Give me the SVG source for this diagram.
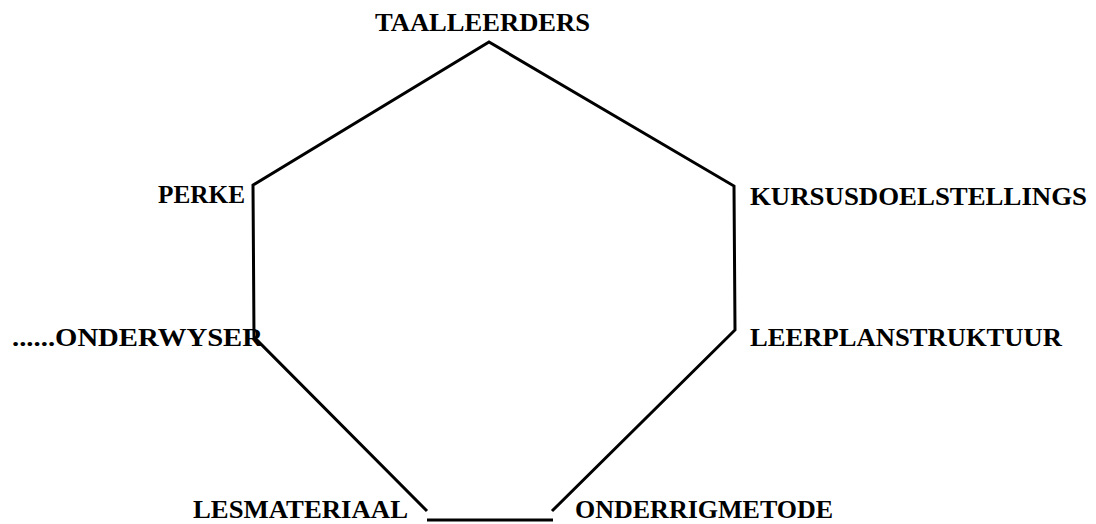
<svg xmlns="http://www.w3.org/2000/svg" width="1096" height="524" viewBox="0 0 1096 524">
  <style>
    .lbl { font-family: "Liberation Serif", "Times New Roman", serif; font-weight: bold; font-size: 26px; fill: #000; }
    .edge { fill: none; stroke: #000; stroke-width: 3; stroke-linejoin: miter; stroke-linecap: butt; }
  </style>
  <rect x="0" y="0" width="1096" height="524" fill="#fff"/>

  <!-- outline of the open polygon -->
  <g id="connectors">
    <polyline class="edge" points="427,511 254,337 253,185 489,42 734,186 735,330 552,511"/>
    <line class="edge" x1="427" y1="520" x2="553" y2="520"/>
  </g>

  <g id="node-taalleerders">
    <text class="lbl" x="375" y="31" textLength="215" lengthAdjust="spacingAndGlyphs">TAALLEERDERS</text>
  </g>
  <g id="node-perke">
    <text class="lbl" x="158" y="203" textLength="87" lengthAdjust="spacingAndGlyphs">PERKE</text>
  </g>
  <g id="node-kursusdoelstellings">
    <text class="lbl" x="750" y="205" textLength="337" lengthAdjust="spacingAndGlyphs">KURSUSDOELSTELLINGS</text>
  </g>
  <g id="node-onderwyser">
    <text class="lbl" x="12" y="346" textLength="251" lengthAdjust="spacingAndGlyphs">......ONDERWYSER</text>
  </g>
  <g id="node-leerplanstruktuur">
    <text class="lbl" x="750" y="346" textLength="312" lengthAdjust="spacingAndGlyphs">LEERPLANSTRUKTUUR</text>
  </g>
  <g id="node-lesmateriaal">
    <text class="lbl" x="193" y="518" textLength="215" lengthAdjust="spacingAndGlyphs">LESMATERIAAL</text>
  </g>
  <g id="node-onderrigmetode">
    <text class="lbl" x="575" y="518">ONDERRIGMETODE</text>
  </g>
</svg>
